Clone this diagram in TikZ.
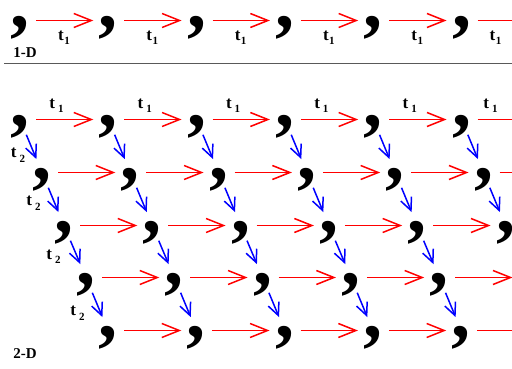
\documentclass[tikz,border=0pt]{standalone}
\usepackage{fontspec}
\setmainfont{Liberation Serif}
\usetikzlibrary{arrows.meta}

\newcommand{\tsub}[2][0.5pt]{t\hspace{#1}\raisebox{-4.5pt}{\fontsize{11}{11}\selectfont #2}}

\begin{document}
\begin{tikzpicture}[x=1pt, y=-1pt,
  comma/.style={inner sep=0pt, text height=14.5pt, text depth=0pt, font=\fontsize{76}{76}\selectfont\bfseries},
  ra/.style={-{Straight Barb[length=17.5pt, width=14pt]}, draw=red, line width=1.5pt, shorten <=16pt, shorten >=15pt},
  ba/.style={-{Straight Barb[length=12.5pt, width=11.5pt]}, draw=blue, line width=1.5pt, shorten <=16.5pt, shorten >=14.5pt},
  lb/.style={anchor=base, inner sep=0pt, font=\fontsize{17}{17}\selectfont\bfseries},
  hd/.style={anchor=base, inner sep=0pt, font=\fontsize{15}{15}\selectfont\bfseries},
]
\useasboundingbox (0,0) rectangle (512,369);
\clip (0,0) rectangle (512,369);

% 1-D chain
\foreach \i in {0,...,5}
  \node[comma] (a\i) at ({20+88.3*\i},20.5) {,};
\coordinate (a6) at (550,20.5);
\foreach \i/\dx [evaluate=\i as \k using int(\i+1)] in {0/44,1/44,2/44,3/44,4/44,5/34}{
  \draw[ra] (a\i.center) -- (a\k.center);
  \node[lb] (la\i) at ([shift={(\dx,20)}]a\i.center) {\tsub{1}};
}
\node[hd] (oned) at (25,57.3) {1-D};
\draw[black!65, line width=1.3pt] (4,63.5) -- (512,63.5);

% 2-D lattice
\foreach \j in {0,...,4}{
  \foreach \i in {0,...,6}{
    \pgfmathsetmacro\px{20+88.3*\i+22*\j}
    \pgfmathsetmacro\py{round(119+52.75*\j)+0.5}
    \pgfmathtruncatemacro\vis{\px<518}
    \ifnum\vis=1 \node[comma] (c\i\j) at (\px,\py) {,};
    \else \coordinate (c\i\j) at (\px,\py); \fi
  }
}
\foreach \j in {0,...,4}{
  \foreach \i [evaluate=\i as \k using int(\i+1)] in {0,...,5}{
    \pgfmathtruncatemacro\vis{20+88.3*\i+22*\j<500}
    \ifnum\vis=1 \draw[ra] (c\i\j.center) -- (c\k\j.center); \fi
  }
}
\foreach \j [evaluate=\j as \n using int(\j+1)] in {0,...,3}{
  \foreach \i in {0,...,5}{
    \pgfmathtruncatemacro\vis{20+88.3*\i+22*\j<500}
    \ifnum\vis=1 \draw[ba] (c\i\j.center) -- (c\i\n.center); \fi
  }
}
\foreach \i/\dx in {0/36.5,1/36.5,2/36.5,3/36.5,4/36.5,5/29}
  \node[lb] (lc\i) at ([shift={(\dx,-11)}]c\i0.center) {\tsub[3pt]{1}};
\foreach \j/\dx/\dy in {0/-2/38,1/-8.5/33,2/-10.5/33.5,3/-8.5/38}
  \node[lb] (ld\j) at ([shift={(\dx,\dy)}]c0\j.center) {\tsub[3pt]{2}};
\node[hd] (twod) at (25,358) {2-D};
\end{tikzpicture}
\end{document}
